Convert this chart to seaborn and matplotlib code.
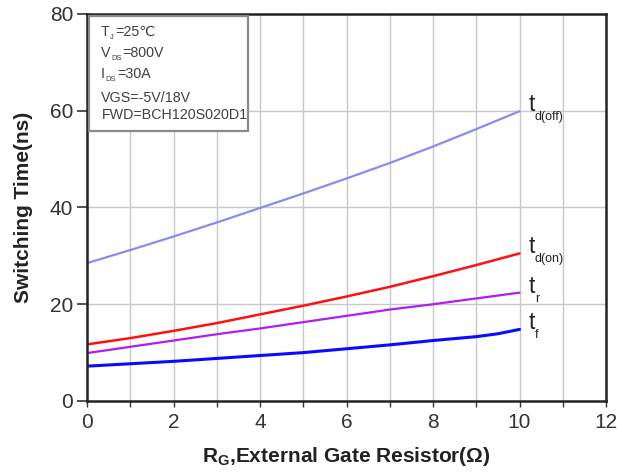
import numpy as np
import pandas as pd
import matplotlib
matplotlib.use("Agg")
import matplotlib.pyplot as plt
import seaborn as sns
from matplotlib.patches import Rectangle

# ---- data ----
rg = [0, 1, 2, 3, 4, 5, 6, 7, 8, 9, 10]
td_off = [28.5, 31.2, 34.0, 36.9, 39.9, 42.9, 46.0, 49.2, 52.6, 56.2, 59.9]
td_on = [11.7, 13.0, 14.5, 16.1, 17.9, 19.7, 21.6, 23.6, 25.8, 28.1, 30.5]
t_r = [9.9, 11.2, 12.5, 13.8, 15.0, 16.3, 17.6, 18.9, 20.0, 21.2, 22.4]
rg_f = [0, 1, 2, 3, 4, 5, 6, 7, 8, 9, 9.5, 10]
t_f = [7.2, 7.7, 8.2, 8.8, 9.4, 10.0, 10.8, 11.6, 12.5, 13.3, 13.9, 14.8]

series_names = ["td(off)", "td(on)", "tr", "tf"]
label_main = ["t", "t", "t", "t"]
label_sub = ["d(off)", "d(on)", "r", "f"]
box_lines = [("T", "J", "=25℃"), ("V", "DS", "=800V"), ("I", "DS", "=30A"),
             ("VGS=-5V/18V", "", ""), ("FWD=BCH120S020D1", "", "")]
x_ticks = [0, 2, 4, 6, 8, 10, 12]
y_ticks = [0, 20, 40, 60, 80]

colors = {"td(off)": "#8a8af0", "td(on)": "#ff1010", "tr": "#b21cf0", "tf": "#0a0aff"}
widths = {"td(off)": 1.6, "td(on)": 1.8, "tr": 1.6, "tf": 2.2}

frames = []
for name, xs, ys in [("td(off)", rg, td_off), ("td(on)", rg, td_on),
                     ("tr", rg, t_r), ("tf", rg_f, t_f)]:
    frames.append(pd.DataFrame({"Rg": xs, "t": ys, "series": name}))
df = pd.concat(frames, ignore_index=True)

sns.set_theme(style="white")
plt.rcParams["font.family"] = ["Liberation Sans", "DejaVu Sans"]
plt.rcParams["mathtext.fontset"] = "custom"
plt.rcParams["mathtext.rm"] = "Liberation Sans"
plt.rcParams["mathtext.bf"] = "Liberation Sans:bold"

fig = plt.figure(figsize=(6.17, 4.72), dpi=100)
ax = fig.add_axes([87 / 617, 71 / 472, 519 / 617, 387 / 472])

for name in series_names:
    sns.lineplot(data=df[df["series"] == name], x="Rg", y="t", color=colors[name],
                 linewidth=widths[name], ax=ax, legend=False, errorbar=None, sort=True)

ax.set_xlim(0, 12)
ax.set_ylim(0, 80)
ax.set_xticks(x_ticks)
ax.set_xticks(np.arange(1, 12, 2), minor=True)
ax.set_yticks(y_ticks)
ax.grid(False)
for xv in range(1, 12):
    ax.axvline(xv, color="#c8c8c8", lw=1.0, zorder=0)
for yv in [20, 40, 60]:
    ax.axhline(yv, color="#c8c8c8", lw=1.0, zorder=0)

for sp in ax.spines.values():
    sp.set_visible(True)
    sp.set_color("#222222")
    sp.set_linewidth(1.8)

ax.tick_params(axis="y", which="major", direction="out", length=7, width=1.2,
               color="#333333", labelsize=15, labelcolor="#333333", pad=3, left=True)
ax.tick_params(axis="x", which="major", direction="out", length=4, width=1.0,
               color="#333333", labelsize=15, labelcolor="#333333", pad=5, bottom=True)
ax.tick_params(axis="x", which="minor", direction="out", length=4, width=1.0,
               color="#333333", bottom=True)

ax.set_xlabel(r"R$_{\mathregular{G}}$,External Gate Resistor(Ω)", fontsize=15,
              fontweight="bold", color="#222222", labelpad=9)
ax.set_ylabel("Switching Time(ns)", fontsize=15, fontweight="bold",
              color="#222222", labelpad=12)

# curve labels at the right end of each curve
end_vals = [td_off[-1], td_on[-1], t_r[-1], t_f[-1]]
for main, sub, yv in zip(label_main, label_sub, end_vals):
    tt = ax.text(10.22, yv, main, fontsize=16.5, color="#222222", ha="left",
                 va="baseline")
    ax.annotate(sub, xy=(1, yv), xycoords=(tt, "data"), xytext=(-0.5, 0),
                textcoords="offset points", fontsize=9, color="#222222",
                ha="left", va="top")

# info box
ax.add_patch(Rectangle((0.004, 0.698), 0.306, 0.297, transform=ax.transAxes,
                       facecolor="white", edgecolor="#8a8a8a", lw=1.6, zorder=5))
baselines_px = [36, 57, 78, 102, 119]
x_px = [100.7, 100.7, 100.7, 100.7, 102.0]
for (a, s, b), yp, xp in zip(box_lines, baselines_px, x_px):
    xa = (xp - 87) / 519
    ya = (401 - yp) / 387
    t1 = ax.text(xa, ya, a, transform=ax.transAxes, fontsize=10.3,
                 color="#404040", va="baseline", ha="left", zorder=6)
    if s:
        t2 = ax.annotate(s, xy=(1, ya), xycoords=(t1, ax.transAxes),
                         xytext=(0.5, 1.5), textcoords="offset points",
                         fontsize=5.5, color="#404040", ha="left", va="top",
                         zorder=6)
        ax.annotate(b, xy=(1, 0), xycoords=(t2, t1), xytext=(0.8, 0),
                    textcoords="offset points", fontsize=10.3, color="#404040",
                    ha="left", va="bottom", zorder=6)

fig.savefig("out.png", dpi=100)
